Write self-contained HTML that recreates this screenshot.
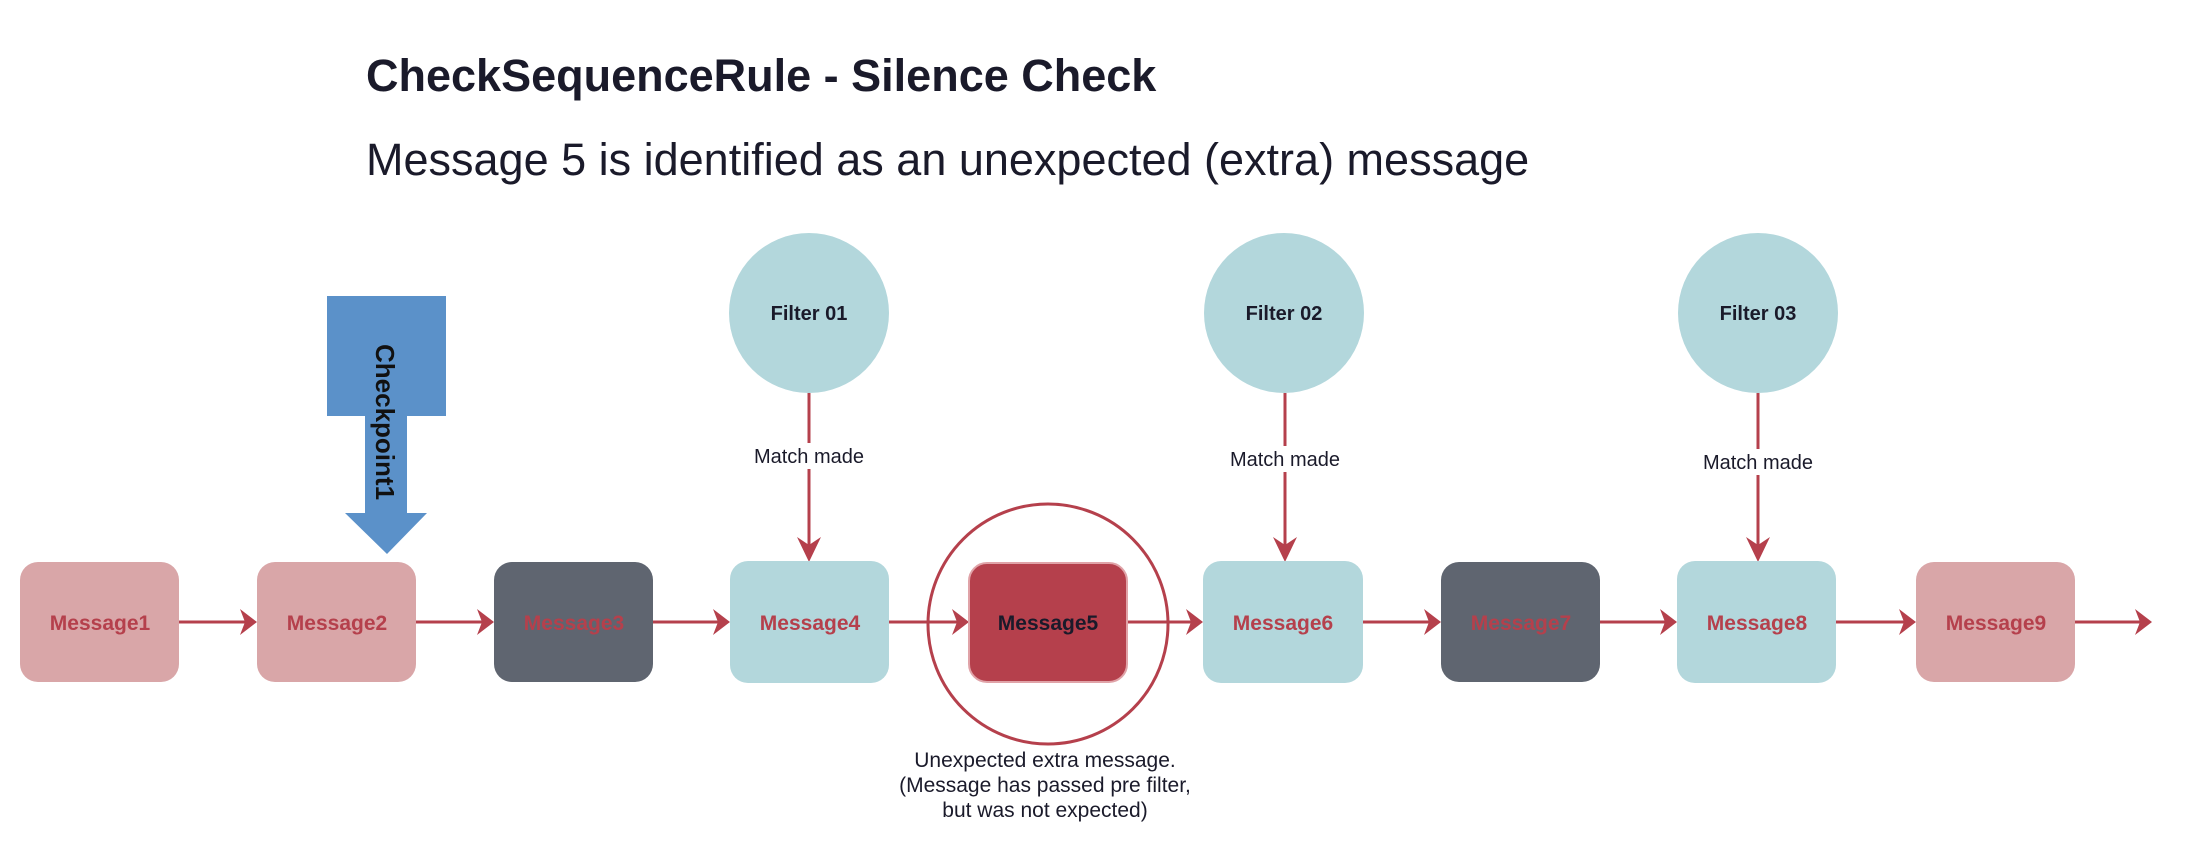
<!DOCTYPE html>
<html><head><meta charset="utf-8"><style>
html,body{margin:0;padding:0;background:#fff;}
svg{display:block;}
</style></head><body>
<svg width="2188" height="845" viewBox="0 0 2188 845" xmlns="http://www.w3.org/2000/svg" font-family="Liberation Sans, Arial, sans-serif">
<text x="366" y="91" font-size="45" font-weight="bold" fill="#1a1a2a">CheckSequenceRule - Silence Check</text>
<text x="366" y="175" font-size="45" fill="#1a1a2a">Message 5 is identified as an unexpected (extra) message</text>

<!-- checkpoint arrow -->
<polygon points="327,296 446,296 446,416 407,416 407,513 427,513 387,554 345,513 365,513 365,416 327,416" fill="#5b91c9"/>
<text transform="translate(376,344) rotate(90)" font-size="26" font-weight="bold" fill="#111">Checkpoint1</text>

<!-- filters -->
<g fill="#b3d7dc">
<circle cx="809" cy="313" r="80"/><circle cx="1284" cy="313" r="80"/><circle cx="1758" cy="313" r="80"/>
</g>
<g font-size="20" font-weight="bold" fill="#1a1a2a" text-anchor="middle">
<text x="809" y="320">Filter 01</text><text x="1284" y="320">Filter 02</text><text x="1758" y="320">Filter 03</text>
</g>
<g stroke="#b5404c" stroke-width="3">
<line x1="809" y1="393" x2="809" y2="545"/><line x1="1285" y1="393" x2="1285" y2="545"/><line x1="1758" y1="393" x2="1758" y2="545"/>
</g>
<g fill="#b5404c">
<polygon points="797,537 809,562 821,537 809,545"/>
<polygon points="1273,537 1285,562 1297,537 1285,545"/>
<polygon points="1746,537 1758,562 1770,537 1758,545"/>
</g>
<g font-size="20" fill="#1a1a2a" text-anchor="middle">
<rect x="752" y="443" width="114" height="26" fill="#fff"/><text x="809" y="463">Match made</text>
<rect x="1227" y="446" width="114" height="26" fill="#fff"/><text x="1285" y="466">Match made</text>
<rect x="1701" y="449" width="114" height="26" fill="#fff"/><text x="1758" y="469">Match made</text>
</g>

<!-- horizontal arrows -->
<g stroke="#b5404c" stroke-width="3">
<line x1="179" y1="622" x2="245" y2="622"/>
<line x1="416" y1="622" x2="482" y2="622"/>
<line x1="653" y1="622" x2="718" y2="622"/>
<line x1="889" y1="622" x2="957" y2="622"/>
<line x1="1127" y1="622" x2="1191" y2="622"/>
<line x1="1363" y1="622" x2="1429" y2="622"/>
<line x1="1600" y1="622" x2="1665" y2="622"/>
<line x1="1836" y1="622" x2="1904" y2="622"/>
<line x1="2075" y1="622" x2="2140" y2="622"/>
</g>
<g fill="#b5404c">
<polygon points="240,609 257,622 240,635 245,622"/>
<polygon points="477,609 494,622 477,635 482,622"/>
<polygon points="713,609 730,622 713,635 718,622"/>
<polygon points="952,609 969,622 952,635 957,622"/>
<polygon points="1186,609 1203,622 1186,635 1191,622"/>
<polygon points="1424,609 1441,622 1424,635 1429,622"/>
<polygon points="1660,609 1677,622 1660,635 1665,622"/>
<polygon points="1899,609 1916,622 1899,635 1904,622"/>
<polygon points="2135,609 2152,622 2135,635 2140,622"/>
</g>

<!-- boxes -->
<rect x="20" y="562" width="159" height="120" rx="18" fill="#d9a6a8"/>
<rect x="257" y="562" width="159" height="120" rx="18" fill="#d9a6a8"/>
<rect x="494" y="562" width="159" height="120" rx="18" fill="#5f6570"/>
<rect x="730" y="561" width="159" height="122" rx="18" fill="#b3d7dc"/>
<rect x="969" y="563" width="158" height="119" rx="18" fill="#b5404c" stroke="#e0a3a8" stroke-width="2"/>
<rect x="1203" y="561" width="160" height="122" rx="18" fill="#b3d7dc"/>
<rect x="1441" y="562" width="159" height="120" rx="18" fill="#5f6570"/>
<rect x="1677" y="561" width="159" height="122" rx="18" fill="#b3d7dc"/>
<rect x="1916" y="562" width="159" height="120" rx="18" fill="#d9a6a8"/>
<g font-size="21" font-weight="bold" fill="#b5404c" text-anchor="middle">
<text x="100" y="630">Message1</text>
<text x="337" y="630">Message2</text>
<text x="574" y="630">Message3</text>
<text x="810" y="630">Message4</text>
<text x="1048" y="630" fill="#1a1a2a">Message5</text>
<text x="1283" y="630">Message6</text>
<text x="1521" y="630">Message7</text>
<text x="1757" y="630">Message8</text>
<text x="1996" y="630">Message9</text>
</g>

<circle cx="1048" cy="624" r="120" fill="none" stroke="#b5404c" stroke-width="3"/>
<g font-size="21" fill="#1a1a2a" text-anchor="middle">
<text x="1045" y="767">Unexpected extra message.</text>
<text x="1045" y="792">(Message has passed pre filter,</text>
<text x="1045" y="817">but was not expected)</text>
</g>
</svg>
</body></html>
